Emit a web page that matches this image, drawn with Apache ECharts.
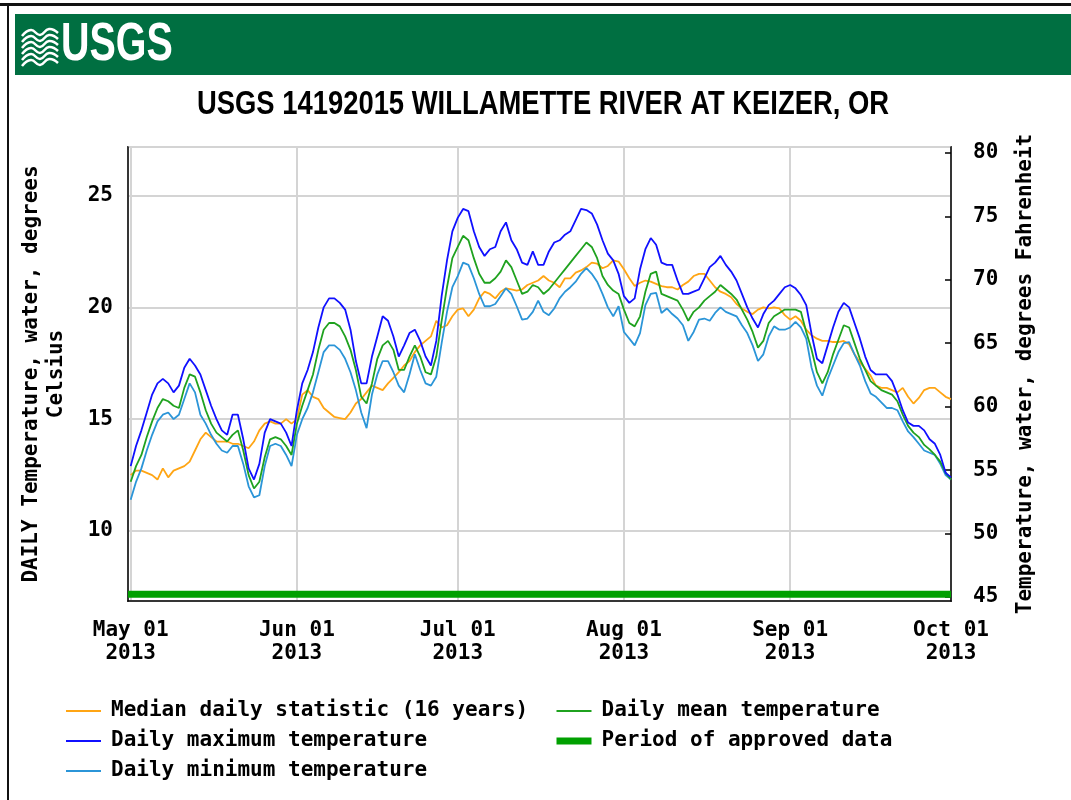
<!DOCTYPE html>
<html>
<head>
<meta charset="utf-8">
<script src="https://cdn.jsdelivr.net/npm/echarts@6/dist/echarts.min.js"></script>
<style>
  html, body { margin: 0; padding: 0; background: #fff; }
  #chart { width: 1071px; height: 800px; }
</style>
</head>
<body>
<div id="chart"></div>
<script>
// daily values, May 01 2013 .. Oct 01 2013 (degrees Celsius)
const startDay = [2013, 4, 1];
const dayCount = 154;

const medianValues = [
  12.5, 12.7, 12.7, 12.6, 12.5, 12.3, 12.8, 12.4, 12.7, 12.8,
  12.9, 13.1, 13.6, 14.1, 14.4, 14.2, 14.0, 14.0, 14.0, 13.9,
  13.9, 13.8, 13.7, 14.0, 14.5, 14.8, 14.9, 14.8, 14.8, 15.0,
  14.8, 15.0, 16.1, 16.3, 16.0, 15.9, 15.5, 15.3, 15.1, 15.05,
  15.0, 15.3, 15.7, 15.9, 16.2, 16.5, 16.4, 16.3, 16.6, 16.85,
  17.1, 17.4, 17.6, 18.0, 18.3, 18.5, 18.7, 19.4, 19.1, 19.2,
  19.6, 19.9, 19.95, 19.6, 19.9, 20.4, 20.7, 20.6, 20.4, 20.7,
  20.85, 20.8, 20.75, 20.8, 21.0, 21.1, 21.2, 21.4, 21.2, 21.1,
  20.9, 21.3, 21.3, 21.55, 21.65, 21.8, 22.0, 21.95, 21.75, 21.85,
  22.1, 22.05, 21.7, 21.3, 20.95, 21.1, 21.2, 21.15, 21.05, 20.95,
  20.9, 20.9, 20.8, 21.0, 21.15, 21.4, 21.5, 21.5, 21.2, 20.9,
  20.7, 20.6, 20.45, 20.15, 19.95, 19.8, 19.7, 19.9, 20.0, 19.95,
  20.0, 19.95, 19.65, 19.45, 19.6, 19.4, 19.0, 18.75, 18.6, 18.5,
  18.5, 18.45, 18.45, 18.5, 18.35, 17.9, 17.55, 17.25, 16.95, 16.5,
  16.4, 16.4, 16.3, 16.2, 16.4, 16.0, 15.7, 15.95, 16.3, 16.4,
  16.4, 16.2, 16.0, 15.9
];

const maxValues = [
  12.9, 13.8, 14.5, 15.3, 16.1, 16.6, 16.8, 16.6, 16.2, 16.5,
  17.3, 17.7, 17.4, 17.0, 16.3, 15.6, 15.0, 14.5, 14.3, 15.2,
  15.2, 14.1, 12.8, 12.3, 13.0, 14.4, 15.0, 14.9, 14.8, 14.4,
  13.8, 15.4, 16.6, 17.2, 18.0, 19.1, 20.0, 20.4, 20.4, 20.2,
  19.9, 19.0, 17.6, 16.6, 16.6, 17.8, 18.7, 19.6, 19.4, 18.7,
  17.8, 18.3, 18.85, 19.0, 18.5, 17.8, 17.4, 18.5, 20.5, 22.1,
  23.4, 24.0, 24.4, 24.3, 23.4, 22.7, 22.3, 22.6, 22.7, 23.4,
  23.8, 23.0, 22.6, 22.0, 21.9, 22.5, 21.9, 21.9, 22.5, 22.9,
  23.0, 23.25, 23.4, 23.9, 24.4, 24.35, 24.2, 23.7, 23.0, 22.4,
  22.1, 21.5, 20.5, 20.2, 20.4, 21.7, 22.6, 23.1, 22.8, 22.0,
  21.9, 21.9, 21.2, 20.6, 20.6, 20.7, 20.8, 21.3, 21.8, 22.0,
  22.3, 21.9, 21.6, 21.2, 20.6, 20.0, 19.5, 19.1, 19.7, 20.1,
  20.3, 20.6, 20.9, 21.0, 20.85, 20.55, 20.1, 18.8, 17.7, 17.5,
  18.3, 19.1, 19.8, 20.2, 20.0, 19.3, 18.6, 17.8, 17.2, 17.0,
  17.0, 17.0, 16.7, 16.1, 15.4, 14.85, 14.7, 14.7, 14.5, 14.1,
  13.9, 13.4, 12.6, 12.4
];

const meanValues = [
  12.2, 12.9, 13.4, 14.2, 14.9, 15.5, 15.9, 15.8, 15.6, 15.5,
  16.4, 17.0, 16.9, 16.2, 15.4, 14.8, 14.4, 14.2, 14.0, 14.3,
  14.5, 13.6, 12.5, 11.9, 12.2, 13.3, 14.1, 14.2, 14.1, 13.8,
  13.4, 14.8, 15.6, 16.3, 17.0, 18.1, 19.0, 19.3, 19.3, 19.15,
  18.7, 18.1, 17.2, 16.0, 15.7, 16.6, 17.7, 18.3, 18.5, 18.1,
  17.2, 17.2, 17.8, 18.3, 17.8, 17.1, 17.0, 17.8, 19.4, 20.9,
  22.2, 22.7, 23.2, 23.0, 22.2, 21.5, 21.1, 21.1, 21.3, 21.6,
  22.1, 21.8, 21.2, 20.6, 20.7, 21.0, 20.9, 20.6, 20.8, 21.1,
  21.4, 21.7, 22.0, 22.3, 22.6, 22.9, 22.7, 22.2, 21.4, 21.0,
  20.75, 20.6, 19.9, 19.3, 19.15, 19.6, 20.7, 21.5, 21.6, 20.6,
  20.5, 20.4, 20.3, 19.9, 19.4, 19.8, 20.0, 20.3, 20.5, 20.7,
  21.0, 20.8, 20.6, 20.35, 19.9, 19.45, 18.9, 18.2, 18.5, 19.3,
  19.6, 19.75, 19.9, 19.9, 19.9, 19.8, 18.9, 18.1, 17.1, 16.6,
  17.1, 17.9, 18.55, 19.2, 19.1, 18.4, 17.7, 17.2, 16.7, 16.5,
  16.3, 16.2, 16.1, 15.8, 15.2, 14.7, 14.4, 14.2, 13.85, 13.65,
  13.4, 13.1, 12.6, 12.3
];

const minValues = [
  11.4, 12.2, 12.8, 13.6, 14.3, 14.9, 15.2, 15.3, 15.0, 15.2,
  15.9, 16.6, 16.2, 15.2, 14.8, 14.3, 13.9, 13.6, 13.5, 13.8,
  13.8, 13.0, 12.0, 11.5, 11.6, 12.9, 13.8, 13.9, 13.8, 13.4,
  12.9, 14.3, 15.0, 15.5, 16.2, 17.1, 18.0, 18.3, 18.3, 18.1,
  17.7, 17.1, 16.3, 15.3, 14.6, 16.1, 17.0, 17.6, 17.6, 17.1,
  16.5, 16.2, 17.0, 17.9, 17.2, 16.6, 16.5, 16.9, 18.4, 19.8,
  20.9, 21.4, 22.0, 21.9, 21.3, 20.6, 20.05, 20.05, 20.15, 20.5,
  20.85, 20.6, 20.05, 19.45, 19.5, 19.8, 20.3, 19.8, 19.65, 19.95,
  20.4, 20.7, 20.9, 21.15, 21.5, 21.75, 21.5, 21.15, 20.6, 20.0,
  19.6, 20.05, 18.9, 18.6, 18.3, 18.85, 20.1, 20.6, 20.65, 19.75,
  19.95, 19.7, 19.5, 19.2, 18.5, 18.9, 19.45, 19.5, 19.4, 19.75,
  20.0, 19.8, 19.7, 19.6, 19.2, 18.85, 18.3, 17.6, 17.9, 18.7,
  19.15, 19.0, 19.0, 19.1, 19.35, 19.1, 18.6, 17.3, 16.5, 16.05,
  16.8, 17.4, 18.0, 18.4, 18.45, 17.9, 17.4, 16.7, 16.15, 16.0,
  15.75, 15.5, 15.5, 15.4, 14.9, 14.45, 14.2, 13.9, 13.6, 13.5,
  13.4, 13.0, 12.5, 12.3
];

// period of approved data (whole window) and where the bar sits
const approvedPeriod = ['2013-04-30 12:00:00', '2013-10-01 00:00:00'];
const approvedLevel = 7.17;

const monthNames = ['Jan', 'Feb', 'Mar', 'Apr', 'May', 'Jun', 'Jul', 'Aug', 'Sep', 'Oct', 'Nov', 'Dec'];

const dates = [];
for (let i = 0; i < dayCount; i++) {
  dates.push(new Date(startDay[0], startDay[1], startDay[2] + i).getTime());
}
const pairs = vals => dates.map((d, i) => [d, vals[i]]);

const MONO = "'DejaVu Sans Mono', 'Liberation Mono', monospace";
const SANS = "'Liberation Sans', Arial, sans-serif";
const lab = { fontFamily: MONO, fontWeight: 'bold', fontSize: 21, color: '#000' };

const chart = echarts.init(document.getElementById('chart'));

// wavy stripes of the logo
const waves = [];
for (let k = 0; k < 6; k++) {
  const y = 30 + k * 6;
  waves.push({
    type: 'polyline',
    shape: { points: [[22, y + 6], [31, y], [40, y + 5], [49, y - 1], [58, y + 3]], smooth: 0.5 },
    style: { stroke: '#fff', lineWidth: 2.5, fill: null }
  });
}

const legendBase = {
  orient: 'vertical', top: 699, padding: 0,
  itemWidth: 35, itemHeight: 14, itemGap: 6,
  itemStyle: { opacity: 0 },
  textStyle: Object.assign({ padding: [0, 0, 0, 5], lineHeight: 24 }, lab)
};

const option = {
  backgroundColor: '#fff',
  animation: false,
  graphic: [
    { type: 'rect', shape: { x: 0, y: 3, width: 1071, height: 3 }, style: { fill: '#111' } },
    { type: 'rect', shape: { x: 7, y: 3, width: 2, height: 797 }, style: { fill: '#111' } },
    { type: 'rect', shape: { x: 15, y: 14, width: 1056, height: 61 }, style: { fill: '#006f41' } },
    { type: 'group', children: waves },
    {
      type: 'text', x: 61, y: 45, scaleX: 0.73,
      style: { text: 'USGS', fontFamily: SANS, fontWeight: 'bold', fontSize: 54, fill: '#fff', verticalAlign: 'middle' }
    },
    {
      type: 'text', x: 543, y: 105, scaleX: 0.83,
      style: {
        text: 'USGS 14192015 WILLAMETTE RIVER AT KEIZER, OR',
        fontFamily: SANS, fontWeight: 'bold', fontSize: 33, fill: '#000',
        align: 'center', verticalAlign: 'middle'
      }
    }
  ],
  grid: {
    left: 128, right: 120, top: 147, bottom: 199,
    show: true, borderColor: '#000', borderWidth: 1.5,
    outerBoundsMode: 'none'
  },
  legend: [
    Object.assign({ left: 65, data: ['Median daily statistic (16 years)', 'Daily maximum temperature', 'Daily minimum temperature'] }, legendBase),
    Object.assign({
      left: 553,
      data: ['Daily mean temperature', { name: 'Period of approved data', lineStyle: { width: 7 } }]
    }, legendBase)
  ],
  xAxis: {
    type: 'time',
    min: new Date(2013, 3, 30, 12).getTime(),
    max: new Date(2013, 9, 1).getTime(),
    splitNumber: 5,
    axisLine: { show: true, lineStyle: { color: '#000', width: 1.5 } },
    axisTick: { show: false },
    splitLine: { show: true, lineStyle: { color: '#d4d4d4', width: 2 } },
    axisLabel: Object.assign({
      margin: 18, lineHeight: 23, showMinLabel: true, showMaxLabel: true,
      formatter: function (v) {
        const d = new Date(v);
        if (d.getDate() !== 1 || d.getHours() !== 0) return '';
        return monthNames[d.getMonth()] + ' 01\n' + d.getFullYear();
      }
    }, lab)
  },
  yAxis: [
    {
      type: 'value', min: 6.87, max: 27.17, splitNumber: 4,
      name: 'DAILY Temperature, water, degrees\nCelsius',
      nameLocation: 'middle', nameRotate: 90, nameGap: 59,
      nameTextStyle: Object.assign({ lineHeight: 25, align: 'center' }, lab),
      axisLine: { show: true, lineStyle: { color: '#000', width: 1.5 } },
      axisTick: { show: false },
      splitLine: { show: true, lineStyle: { color: '#d4d4d4', width: 2 } },
      axisLabel: Object.assign({ margin: 15, showMinLabel: false, showMaxLabel: false }, lab)
    },
    {
      type: 'value', min: 44.68, max: 80.47, splitNumber: 7, position: 'right',
      name: 'Temperature, water, degrees Fahrenheit',
      nameLocation: 'middle', nameRotate: 90, nameGap: 64,
      nameTextStyle: lab,
      axisLine: { show: true, lineStyle: { color: '#000', width: 1.5 } },
      axisTick: { show: true, inside: true, length: 6, lineStyle: { color: '#000', width: 1.5 } },
      splitLine: { show: false },
      axisLabel: Object.assign({ margin: 22, showMinLabel: false, showMaxLabel: false }, lab)
    }
  ],
  series: [
    {
      name: 'Period of approved data', type: 'line', yAxisIndex: 0,
      symbol: 'none', silent: true,
      lineStyle: { color: '#00a000', width: 7, cap: 'butt' }, itemStyle: { color: '#00a000' },
      data: approvedPeriod.map(t => [t, approvedLevel])
    },
    {
      name: 'Median daily statistic (16 years)', type: 'line', symbol: 'none',
      lineStyle: { color: '#ffa514', width: 1.8 }, itemStyle: { color: '#ffa514' },
      data: pairs(medianValues)
    },
    {
      name: 'Daily minimum temperature', type: 'line', symbol: 'none',
      lineStyle: { color: '#2b95d8', width: 1.8 }, itemStyle: { color: '#2b95d8' },
      data: pairs(minValues)
    },
    {
      name: 'Daily mean temperature', type: 'line', symbol: 'none',
      lineStyle: { color: '#1fa21f', width: 1.8 }, itemStyle: { color: '#1fa21f' },
      data: pairs(meanValues)
    },
    {
      name: 'Daily maximum temperature', type: 'line', symbol: 'none',
      lineStyle: { color: '#1010ff', width: 1.8 }, itemStyle: { color: '#1010ff' },
      data: pairs(maxValues)
    }
  ]
};

chart.setOption(option);
</script>
</body>
</html>
